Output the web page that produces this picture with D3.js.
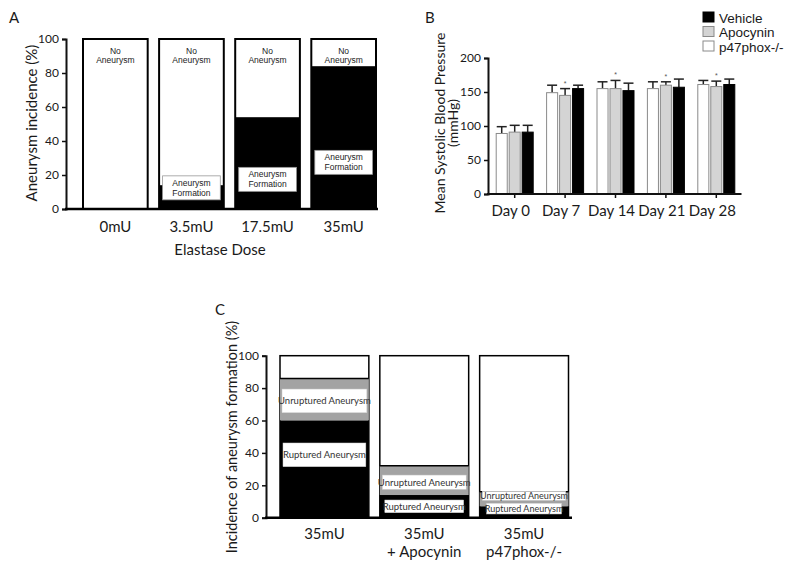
<!DOCTYPE html>
<html>
<head>
<meta charset="utf-8">
<script src="https://cdn.jsdelivr.net/npm/d3@7"></script>
<style>
  body { margin: 0; background: #fff; }
  svg { display: block; }
  .axis path, .axis line { stroke: #111; }
  .axis text { font-family: Lato, "Open Sans", sans-serif; font-size: 12px; fill: #1a1a1a; }
  .title { font-family: Lato, "Open Sans", sans-serif; font-size: 14px; fill: #1a1a1a; }
  .cat { font-family: Lato, "Open Sans", sans-serif; font-size: 15px; fill: #1a1a1a; }
  .panel { font-family: Lato, sans-serif; font-size: 15px; fill: #1a1a1a; }
  .boxA { font-family: "Liberation Sans", Arial, sans-serif; font-size: 8.5px; fill: #222; }
  .boxC { font-family: Lato, sans-serif; font-size: 9.5px; fill: #333; }
  .legend { font-family: "Liberation Sans", Arial, sans-serif; font-size: 13.5px; fill: #1a1a1a; }
</style>
</head>
<body>
<div id="chart"></div>
<script>
// Panel A: aneurysm incidence by elastase dose
var doseLabels = ["0mU", "3.5mU", "17.5mU", "35mU"];
var aneurysmPct = [0, 14, 54, 84];

// Panel B: mean systolic blood pressure
var dayLabels = ["Day 0", "Day 7", "Day 14", "Day 21", "Day 28"];
var seriesNames = ["p47phox-/-", "Apocynin", "Vehicle"];
var p47Mean = [89, 149, 155, 155, 161];
var p47Err = [10, 11, 10, 10, 6];
var apoMean = [91, 145, 155, 160, 158];
var apoErr = [10, 10, 12, 5, 8];
var vehMean = [91, 155, 152, 157, 161];
var vehErr = [10, 5, 11, 12, 8];
var apoStar = [false, true, true, true, true];

// Panel C: ruptured / unruptured aneurysm
var groupLabels = [["35mU"], ["35mU", "+ Apocynin"], ["35mU", "p47phox-/-"]];
var rupturedPct = [60, 14, 7];
var unrupturedPct = [26, 18, 9];

var W = 800, H = 570;
var svg = d3.select("#chart").append("svg").attr("width", W).attr("height", H);

var seriesFill = { "p47phox-/-": "#fff", "Apocynin": "#d4d4d4", "Vehicle": "#000" };
var seriesStroke = { "p47phox-/-": "#8a8a8a", "Apocynin": "#8a8a8a", "Vehicle": "#000" };

// ---------------- Panel A ----------------
var renderA = function() {
  var g = svg.append("g");
  var x = d3.scaleBand().domain(doseLabels).range([83, 376]).paddingInner(0.15).paddingOuter(0);
  var y = d3.scaleLinear().domain([0, 100]).range([209, 39]);

  g.append("text").attr("class", "panel").attr("x", 9).attr("y", 23).text("A");

  // white "no aneurysm" bars (full height)
  g.append("g").selectAll("rect.tot").data(doseLabels).enter().append("rect")
    .attr("x", d => x(d)).attr("width", x.bandwidth())
    .attr("y", y(100)).attr("height", y(0) - y(100))
    .attr("fill", "#fff").attr("stroke", "#000").attr("stroke-width", 2);

  // black "aneurysm formation" part
  g.append("g").selectAll("rect.an").data(aneurysmPct).enter().append("rect")
    .attr("x", (d, i) => x(doseLabels[i])).attr("width", x.bandwidth())
    .attr("y", d => y(d)).attr("height", d => y(0) - y(d))
    .attr("fill", "#000");

  // "No Aneurysm" text
  var na = g.append("g").selectAll("text").data(doseLabels).enter().append("text")
    .attr("class", "boxA").attr("text-anchor", "middle")
    .attr("x", d => x(d) + x.bandwidth() / 2).attr("y", y(100) + 14.5);
  na.append("tspan").text("No");
  na.append("tspan").attr("x", d => x(d) + x.bandwidth() / 2).attr("dy", 9).text("Aneurysm");

  // "Aneurysm Formation" boxes (top of box, in %)
  var boxTop = [null, 19.5, 24.5, 34.5];
  doseLabels.forEach(function(d, i) {
    if (boxTop[i] == null) return;
    var bx = x(d) + 3.5, bw = x.bandwidth() - 7, by = y(boxTop[i]);
    g.append("rect").attr("x", bx).attr("y", by).attr("width", bw).attr("height", 24)
      .attr("fill", "#fff").attr("stroke", "#999").attr("stroke-width", 0.8);
    var t = g.append("text").attr("class", "boxA").attr("text-anchor", "middle")
      .attr("x", bx + bw / 2).attr("y", by + 10);
    t.append("tspan").text("Aneurysm");
    t.append("tspan").attr("x", bx + bw / 2).attr("dy", 10).text("Formation");
  });

  // axes
  var yAxis = d3.axisLeft(y).tickValues([0, 20, 40, 60, 80, 100]).tickSize(4).tickPadding(3);
  var ya = g.append("g").attr("class", "axis").attr("transform", "translate(66,0)").call(yAxis);
  ya.select(".domain").attr("stroke-width", 2);
  ya.selectAll(".tick line").attr("stroke-width", 1.5);

  g.append("line").attr("x1", 65).attr("x2", 378).attr("y1", y(0)).attr("y2", y(0))
    .attr("stroke", "#000").attr("stroke-width", 2.5);

  g.append("g").selectAll("text").data(doseLabels).enter().append("text")
    .attr("class", "cat").attr("text-anchor", "middle")
    .attr("x", d => x(d) + x.bandwidth() / 2).attr("y", 232).text(d => d);

  g.append("text").attr("class", "title").attr("text-anchor", "middle").style("font-size", "15px")
    .attr("x", 220).attr("y", 255).text("Elastase Dose");
  g.append("text").attr("class", "title").attr("text-anchor", "middle").style("font-size", "15px")
    .attr("transform", "translate(37,123) rotate(-90)").text("Aneurysm incidence (%)");
};

// ---------------- Panel B ----------------
var renderB = function() {
  var g = svg.append("g");
  var x = d3.scaleBand().domain(dayLabels).range([489.5, 741.5]).padding(0);
  var sub = d3.scaleBand().domain(seriesNames).range([-18.5, 18.5]).paddingInner(0.15);
  var y = d3.scaleLinear().domain([0, 200]).range([194, 58]);

  g.append("text").attr("class", "panel").attr("x", 425).attr("y", 23).text("B");

  var series = [
    { name: "p47phox-/-", mean: p47Mean, err: p47Err, star: null },
    { name: "Apocynin", mean: apoMean, err: apoErr, star: apoStar },
    { name: "Vehicle", mean: vehMean, err: vehErr, star: null }
  ];

  series.forEach(function(s) {
    var rows = dayLabels.map((d, i) => ({ day: d, v: s.mean[i], e: s.err[i], star: s.star ? s.star[i] : false }));
    var cx = d => x(d.day) + x.bandwidth() / 2 + sub(s.name) + sub.bandwidth() / 2;
    var sg = g.append("g");
    // error bars
    sg.selectAll("line.err").data(rows).enter().append("line")
      .attr("x1", cx).attr("x2", cx).attr("y1", d => y(d.v)).attr("y2", d => y(d.v + d.e))
      .attr("stroke", "#222").attr("stroke-width", 1.5);
    sg.selectAll("line.cap").data(rows).enter().append("line")
      .attr("x1", d => cx(d) - 5).attr("x2", d => cx(d) + 5)
      .attr("y1", d => y(d.v + d.e)).attr("y2", d => y(d.v + d.e))
      .attr("stroke", "#222").attr("stroke-width", 1.5);
    sg.selectAll("rect").data(rows).enter().append("rect")
      .attr("x", d => x(d.day) + x.bandwidth() / 2 + sub(s.name))
      .attr("width", sub.bandwidth())
      .attr("y", d => y(d.v)).attr("height", d => y(0) - y(d.v))
      .attr("fill", seriesFill[s.name]).attr("stroke", seriesStroke[s.name]).attr("stroke-width", 1);
    sg.selectAll("text").data(rows.filter(d => d.star)).enter().append("text")
      .attr("text-anchor", "middle").attr("font-family", "Liberation Sans, sans-serif")
      .attr("font-size", 7).attr("fill", "#555")
      .attr("x", cx).attr("y", d => y(d.v + d.e) - 3).text("*");
  });

  var yAxis = d3.axisLeft(y).tickValues([0, 50, 100, 150, 200]).tickSize(4).tickPadding(3);
  var ya = g.append("g").attr("class", "axis").attr("transform", "translate(488,0)").call(yAxis);
  ya.select(".domain").attr("stroke-width", 2);
  ya.selectAll(".tick line").attr("stroke-width", 1.5);

  var xAxis = d3.axisBottom(x).tickSize(4).tickSizeOuter(0).tickFormat("");
  var xa = g.append("g").attr("class", "axis").attr("transform", "translate(0," + y(0) + ")").call(xAxis);
  xa.select(".domain").attr("stroke-width", 2).attr("d", "M487,0H741.5");
  xa.selectAll(".tick line").attr("stroke-width", 1.5);

  g.append("g").selectAll("text.day").data(dayLabels).enter().append("text")
    .attr("class", "cat").attr("text-anchor", "middle")
    .attr("x", d => x(d) + x.bandwidth() / 2 - 4).attr("y", 216).text(d => d);

  g.append("text").attr("class", "title").attr("text-anchor", "middle")
    .attr("transform", "translate(445,123) rotate(-90)").text("Mean Systolic Blood Pressure");
  g.append("text").attr("class", "title").attr("text-anchor", "middle")
    .attr("transform", "translate(458,123) rotate(-90)").text("(mmHg)");

  // legend
  var legendOrder = ["Vehicle", "Apocynin", "p47phox-/-"];
  var lg = g.append("g").selectAll("g").data(legendOrder).enter().append("g")
    .attr("transform", (d, i) => "translate(703," + (12 + i * 14.5) + ")");
  lg.append("rect").attr("width", 11).attr("height", 10)
    .attr("fill", d => seriesFill[d]).attr("stroke", d => seriesStroke[d]).attr("stroke-width", 1);
  lg.append("text").attr("class", "legend").attr("x", 16).attr("y", 10.5).text(d => d);
};

// ---------------- Panel C ----------------
var renderC = function() {
  var g = svg.append("g");
  var keys = groupLabels.map(d => d.join(" "));
  var x = d3.scaleBand().domain(keys).range([280, 568.5]).paddingInner(0.11).paddingOuter(0);
  var y = d3.scaleLinear().domain([0, 100]).range([517.7, 355.7]);

  g.append("text").attr("class", "panel").attr("x", 215).attr("y", 315).text("C");

  var rows = keys.map((k, i) => ({ k: k, r: rupturedPct[i], u: unrupturedPct[i] }));

  g.append("g").selectAll("rect").data(rows).enter().append("rect")
    .attr("x", d => x(d.k)).attr("width", x.bandwidth())
    .attr("y", y(100)).attr("height", y(0) - y(100))
    .attr("fill", "#fff").attr("stroke", "#000").attr("stroke-width", 1.5);
  g.append("g").selectAll("rect").data(rows).enter().append("rect")
    .attr("x", d => x(d.k)).attr("width", x.bandwidth())
    .attr("y", d => y(d.r + d.u)).attr("height", d => y(d.r) - y(d.r + d.u))
    .attr("fill", "#a3a3a3");
  g.append("g").selectAll("line").data(rows).enter().append("line")
    .attr("x1", d => x(d.k)).attr("x2", d => x(d.k) + x.bandwidth())
    .attr("y1", d => y(d.r + d.u)).attr("y2", d => y(d.r + d.u))
    .attr("stroke", "#000").attr("stroke-width", 1.5);
  g.append("g").selectAll("rect").data(rows).enter().append("rect")
    .attr("x", d => x(d.k)).attr("width", x.bandwidth())
    .attr("y", d => y(d.r)).attr("height", d => y(0) - y(d.r))
    .attr("fill", "#000");

  // label boxes: [centre %, height px, side inset px]
  var unrupBox = [[72.1, 23.7, 2], [21.9, 14.3, 2.5], [13.5, 9, 2.8]];
  var rupBox = [[38.8, 23.7, 3], [7.0, 12.7, 5], [5.6, 10.7, 7]];
  var drawBox = function(spec, i, label, fs) {
    var bx = x(keys[i]) + spec[2], bw = x.bandwidth() - 2 * spec[2];
    var cy = y(spec[0]);
    g.append("rect").attr("x", bx).attr("y", cy - spec[1] / 2).attr("width", bw).attr("height", spec[1])
      .attr("fill", "#fff").attr("stroke", "#ccc").attr("stroke-width", 0.5);
    g.append("text").attr("class", "boxC").attr("text-anchor", "middle").style("font-size", fs + "px")
      .attr("x", bx + bw / 2).attr("y", cy + fs * 0.35).text(label);
  };
  unrupBox.forEach((s, i) => drawBox(s, i, "Unruptured Aneurysm", i === 2 ? 9 : 9.5));
  rupBox.forEach((s, i) => drawBox(s, i, "Ruptured Aneurysm", i === 2 ? 9 : 9.5));

  var yAxis = d3.axisLeft(y).tickValues([0, 20, 40, 60, 80, 100]).tickSize(4).tickPadding(3);
  var ya = g.append("g").attr("class", "axis").attr("transform", "translate(266,0)").call(yAxis);
  ya.select(".domain").attr("stroke-width", 2);
  ya.selectAll(".tick line").attr("stroke-width", 1.5);

  g.append("line").attr("x1", 265).attr("x2", 572).attr("y1", y(0)).attr("y2", y(0))
    .attr("stroke", "#000").attr("stroke-width", 2.5);

  var lab = g.append("g").selectAll("text").data(groupLabels).enter().append("text")
    .attr("class", "cat").attr("text-anchor", "middle")
    .attr("x", (d, i) => x(keys[i]) + x.bandwidth() / 2).attr("y", 539);
  lab.selectAll("tspan").data(d => d).enter().append("tspan")
    .attr("x", function() { return d3.select(this.parentNode).attr("x"); })
    .attr("dy", (d, i) => (i === 0 ? 0 : 17.5)).text(d => d);

  g.append("text").attr("class", "title").attr("text-anchor", "middle").style("font-size", "14.5px")
    .attr("transform", "translate(237,437) rotate(-90)").text("Incidence of aneurysm formation (%)");
};

renderA();
renderB();
renderC();
</script>
</body>
</html>
